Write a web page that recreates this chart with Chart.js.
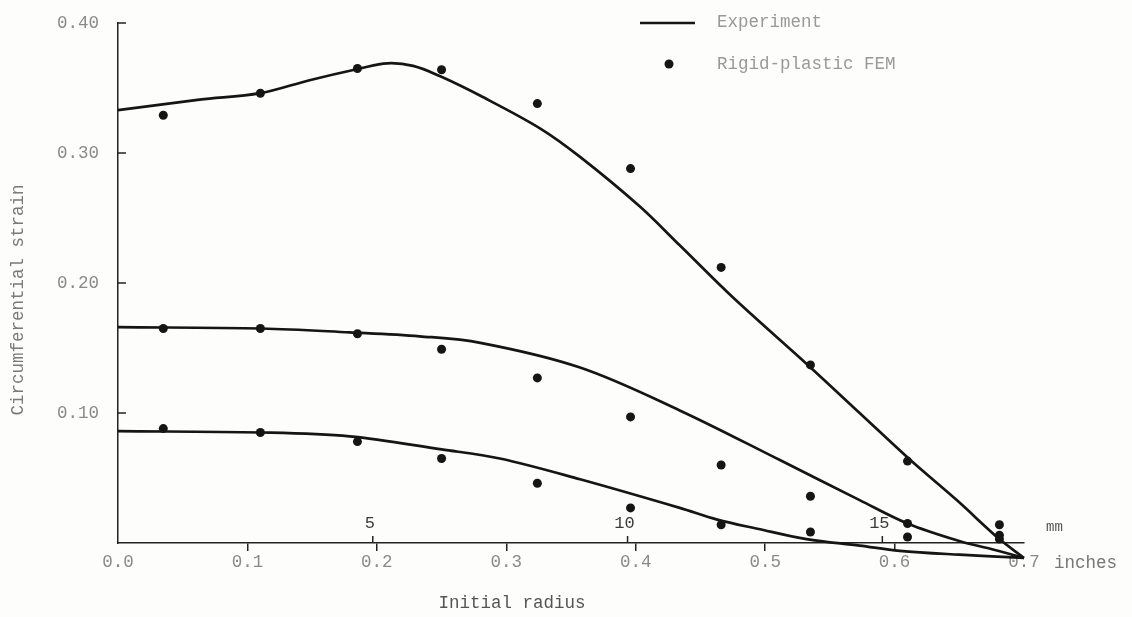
<!DOCTYPE html>
<html>
<head>
<meta charset="utf-8">
<script src="https://cdn.jsdelivr.net/npm/chart.js@4.4.1/dist/chart.umd.min.js"></script>
<style>
  html, body { margin: 0; padding: 0; background: #fdfdfc; }
  #wrap { width: 1132px; height: 617px; }
</style>
</head>
<body>
<div id="wrap"><canvas id="chart" width="1132" height="617"></canvas></div>
<script>
// initial radius (inches) vs circumferential strain
const expTopR = [0, 0.063, 0.11, 0.148, 0.187, 0.208, 0.228, 0.249, 0.28, 0.326, 0.357, 0.403, 0.434, 0.475, 0.534, 0.573, 0.612, 0.648, 0.681, 0.7];
const expTopStrain = [0.333, 0.341, 0.346, 0.356, 0.365, 0.369, 0.367, 0.359, 0.344, 0.319, 0.297, 0.259, 0.229, 0.189, 0.136, 0.100, 0.064, 0.033, 0.003, -0.0115];

const expMidR = [0, 0.111, 0.179, 0.233, 0.28, 0.357, 0.434, 0.511, 0.573, 0.61, 0.65, 0.676, 0.7];
const expMidStrain = [0.166, 0.165, 0.162, 0.159, 0.154, 0.135, 0.102, 0.064, 0.033, 0.015, 0.0015, -0.005, -0.0115];

const expLowR = [0, 0.11, 0.179, 0.25, 0.295, 0.357, 0.434, 0.463, 0.494, 0.532, 0.573, 0.604, 0.65, 0.7];
const expLowStrain = [0.086, 0.085, 0.082, 0.072, 0.065, 0.049, 0.027, 0.018, 0.011, 0.003, -0.002, -0.006, -0.009, -0.0115];

// rigid-plastic FEM points
const femR = [0.035, 0.11, 0.185, 0.25, 0.324, 0.396, 0.466, 0.535, 0.61, 0.681];
const femTop = [0.329, 0.346, 0.365, 0.364, 0.338, 0.288, 0.212, 0.137, 0.063, 0.014];
const femMid = [0.165, 0.165, 0.161, 0.149, 0.127, 0.097, 0.060, 0.036, 0.015, 0.006];
const femLow = [0.088, 0.085, 0.078, 0.065, 0.046, 0.027, 0.014, 0.0085, 0.0046, 0.003];

const yTickValues = [0.1, 0.2, 0.3, 0.4];
const mmTicks = [5, 10, 15];
const legendLabels = ['Experiment', 'Rigid-plastic FEM'];
const xTitle = 'Initial radius';
const yTitle = 'Circumferential strain';

const FONT = '"Liberation Mono", "DejaVu Sans Mono", monospace';
const INK = '#151515';

const pts = (xs, ys) => xs.map((x, i) => ({ x: x, y: ys[i] }));

const lineSet = (xs, ys) => ({
  label: legendLabels[0],
  data: pts(xs, ys),
  showLine: true,
  borderColor: INK,
  borderWidth: 2.7,
  pointRadius: 0,
  tension: 0.35,
  clip: false
});

const dotSet = (ys) => ({
  label: legendLabels[1],
  data: pts(femR, ys),
  showLine: false,
  pointRadius: 4.5,
  pointBackgroundColor: INK,
  pointBorderWidth: 0,
  clip: false
});

// typed-on-paper extras: inward y ticks, mm scale, titles, legend
const paperBits = {
  id: 'paperBits',
  afterDraw(chart) {
    const { ctx, chartArea, scales: { x, y } } = chart;
    ctx.save();
    ctx.strokeStyle = '#222';
    ctx.lineWidth = 1.5;

    yTickValues.forEach(v => {
      const py = y.getPixelForValue(v);
      ctx.beginPath();
      ctx.moveTo(chartArea.left, py);
      ctx.lineTo(chartArea.left + 8, py);
      ctx.stroke();
    });

    ctx.font = '17px ' + FONT;
    ctx.textAlign = 'center';
    ctx.textBaseline = 'middle';
    ctx.fillStyle = '#3a3a3a';
    mmTicks.forEach(mm => {
      const px = x.getPixelForValue(mm / 25.4);
      ctx.beginPath();
      ctx.moveTo(px, chartArea.bottom);
      ctx.lineTo(px, chartArea.bottom - 7);
      ctx.stroke();
      ctx.fillText(String(mm), px - 3, chartArea.bottom - 20);
    });

    ctx.textAlign = 'left';
    ctx.fillStyle = '#555';
    ctx.font = '14px ' + FONT;
    ctx.fillText('mm', chartArea.right + 22, chartArea.bottom - 16);
    ctx.font = '17.5px ' + FONT;
    ctx.fillStyle = '#777';
    ctx.fillText('inches', chartArea.right + 30, chartArea.bottom + 20);

    // axis titles
    ctx.fillStyle = '#555';
    ctx.textAlign = 'center';
    ctx.fillText(xTitle, chartArea.left + 394, 603);
    ctx.save();
    ctx.translate(18, 300);
    ctx.rotate(-Math.PI / 2);
    ctx.fillStyle = '#7a7a7a';
    ctx.fillText(yTitle, 0, 0);
    ctx.restore();

    // legend
    ctx.strokeStyle = INK;
    ctx.lineWidth = 2.6;
    ctx.beginPath();
    ctx.moveTo(640, 23);
    ctx.lineTo(695, 23);
    ctx.stroke();
    ctx.fillStyle = INK;
    ctx.beginPath();
    ctx.arc(669, 64, 4.5, 0, Math.PI * 2);
    ctx.fill();
    ctx.fillStyle = '#999';
    ctx.textAlign = 'left';
    ctx.fillText(legendLabels[0], 717, 22);
    ctx.fillText(legendLabels[1], 717, 64);
    ctx.restore();
  }
};

new Chart(document.getElementById('chart'), {
  type: 'scatter',
  data: {
    datasets: [
      lineSet(expTopR, expTopStrain),
      lineSet(expMidR, expMidStrain),
      lineSet(expLowR, expLowStrain),
      dotSet(femTop),
      dotSet(femMid),
      dotSet(femLow)
    ]
  },
  options: {
    responsive: false,
    animation: false,
    devicePixelRatio: 1,
    layout: { padding: { top: 23, right: 108, left: 0, bottom: 0 } },
    plugins: {
      legend: { display: false },
      tooltip: { enabled: false }
    },
    scales: {
      x: {
        type: 'linear',
        min: 0,
        max: 0.7,
        afterFit: (s) => { s.height = 74; },
        border: { display: true, color: '#222', width: 1.5 },
        grid: {
          drawOnChartArea: false,
          drawTicks: true,
          tickLength: 8,
          lineWidth: 1.5,
          color: (c) => (c.tick && (c.tick.value === 0 || c.tick.value > 0.69) ? 'rgba(0,0,0,0)' : '#222')
        },
        ticks: {
          stepSize: 0.1,
          autoSkip: false,
          maxRotation: 0,
          padding: 1,
          color: '#8a8a8a',
          font: { family: FONT, size: 17.5 },
          callback: (v) => v.toFixed(1)
        }
      },
      y: {
        type: 'linear',
        min: 0,
        max: 0.4,
        afterFit: (s) => { s.width = 118; },
        border: { display: true, color: '#222', width: 1.5 },
        grid: { display: false },
        ticks: {
          stepSize: 0.1,
          padding: 11,
          color: '#8a8a8a',
          font: { family: FONT, size: 17.5 },
          callback: (v) => (v === 0 ? '' : v.toFixed(2))
        }
      }
    }
  },
  plugins: [paperBits]
});
</script>
</body>
</html>
